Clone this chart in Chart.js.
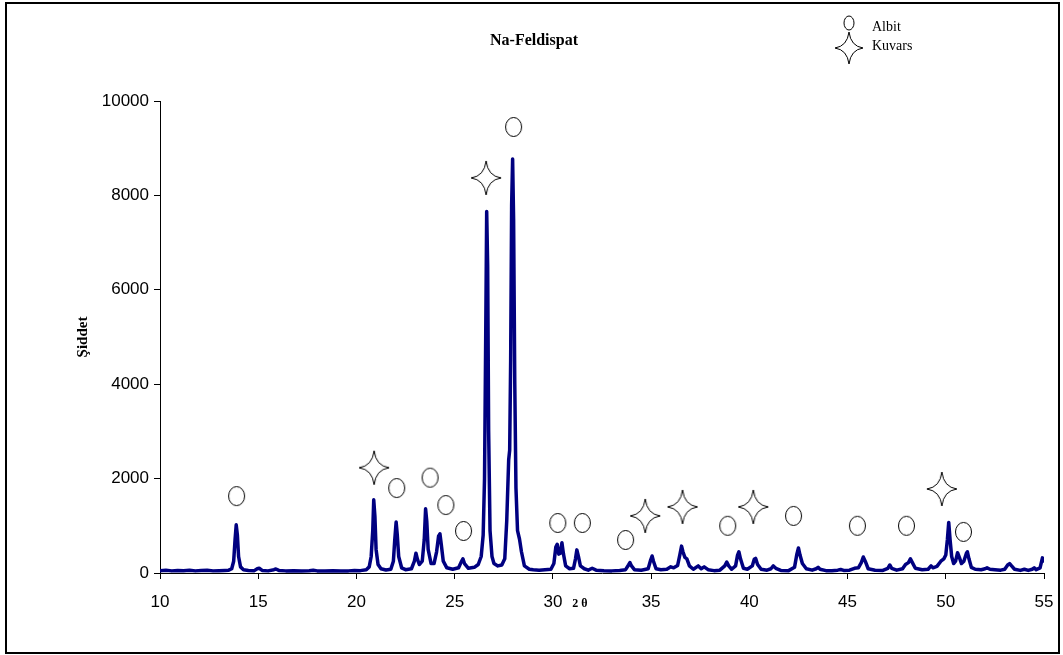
<!DOCTYPE html>
<html>
<head>
<meta charset="utf-8">
<script src="https://cdn.jsdelivr.net/npm/chart.js@4.4.1/dist/chart.umd.min.js"></script>
<style>
  html, body { margin: 0; padding: 0; background: #fff; }
  #wrap { width: 1063px; height: 655px; position: relative; }
</style>
</head>
<body>
<div id="wrap"><canvas id="xrd"></canvas></div>
<script>
// diffractogram, [2θ, intensity]
const pattern = [
  [10.0, 50], [10.3, 60], [10.6, 45], [10.9, 55], [11.2, 50], [11.5, 60], [11.8, 45], [12.1, 55],
  [12.4, 60], [12.7, 45], [13.0, 50], [13.3, 55], [13.5, 60], [13.65, 90], [13.75, 250], [13.82, 700],
  [13.88, 1020], [13.94, 800], [14.0, 350], [14.1, 130], [14.25, 70], [14.5, 55], [14.8, 50], [14.95, 90],
  [15.05, 100], [15.2, 55], [15.5, 45], [15.8, 70], [15.9, 85], [16.05, 55], [16.4, 45], [16.8, 50],
  [17.2, 40], [17.6, 50], [17.8, 60], [18.0, 45], [18.4, 45], [18.8, 50], [19.2, 40], [19.6, 45],
  [19.9, 55], [20.2, 50], [20.5, 70], [20.65, 130], [20.75, 350], [20.83, 900], [20.88, 1550], [20.94, 1200],
  [21.0, 500], [21.1, 180], [21.25, 90], [21.5, 65], [21.75, 80], [21.88, 250], [21.95, 700], [22.02, 1080],
  [22.08, 800], [22.15, 350], [22.3, 110], [22.5, 70], [22.8, 90], [22.95, 250], [23.03, 420], [23.1, 300],
  [23.2, 180], [23.35, 250], [23.45, 700], [23.52, 1360], [23.58, 1100], [23.65, 500], [23.8, 200], [23.95, 200],
  [24.08, 450], [24.18, 780], [24.25, 830], [24.32, 600], [24.42, 250], [24.6, 110], [24.9, 80], [25.2, 110],
  [25.33, 230], [25.42, 300], [25.5, 200], [25.7, 100], [26.0, 120], [26.2, 180], [26.35, 350], [26.45, 800],
  [26.52, 2000], [26.58, 5000], [26.63, 7660], [26.68, 6500], [26.73, 3000], [26.8, 900], [26.9, 350], [27.0, 200],
  [27.2, 150], [27.4, 170], [27.55, 300], [27.65, 1100], [27.75, 2400], [27.8, 2600], [27.85, 4500], [27.9, 7800],
  [27.95, 8770], [28.0, 7500], [28.06, 4000], [28.12, 1800], [28.2, 900], [28.3, 720], [28.4, 450], [28.55, 150],
  [28.8, 80], [29.0, 70], [29.3, 60], [29.6, 70], [29.9, 80], [30.05, 200], [30.15, 550], [30.22, 610],
  [30.3, 400], [30.38, 420], [30.46, 640], [30.54, 400], [30.65, 150], [30.85, 90], [31.05, 100], [31.15, 300],
  [31.22, 490], [31.3, 350], [31.4, 150], [31.6, 90], [31.8, 60], [32.0, 100], [32.2, 60], [32.6, 50],
  [33.0, 45], [33.4, 55], [33.7, 70], [33.85, 170], [33.92, 220], [34.0, 150], [34.15, 70], [34.5, 60],
  [34.85, 90], [34.98, 280], [35.05, 360], [35.12, 250], [35.25, 90], [35.5, 70], [35.8, 80], [36.0, 130],
  [36.15, 110], [36.35, 160], [36.47, 400], [36.55, 570], [36.62, 450], [36.72, 330], [36.82, 300], [36.95, 150],
  [37.15, 80], [37.4, 150], [37.55, 90], [37.7, 130], [37.9, 70], [38.2, 50], [38.5, 60], [38.75, 150],
  [38.85, 230], [38.95, 150], [39.1, 80], [39.3, 150], [39.4, 380], [39.47, 450], [39.55, 300], [39.7, 100],
  [39.9, 80], [40.15, 150], [40.25, 290], [40.32, 310], [40.42, 180], [40.6, 80], [40.9, 60], [41.1, 90],
  [41.22, 150], [41.35, 100], [41.6, 55], [42.0, 50], [42.3, 120], [42.42, 400], [42.5, 530], [42.58, 380],
  [42.7, 200], [42.9, 90], [43.2, 60], [43.4, 90], [43.5, 120], [43.6, 80], [43.9, 50], [44.2, 50],
  [44.5, 60], [44.65, 75], [44.8, 55], [45.1, 60], [45.35, 100], [45.55, 110], [45.7, 220], [45.8, 340],
  [45.9, 250], [46.05, 90], [46.4, 60], [46.8, 55], [47.05, 100], [47.15, 170], [47.25, 100], [47.5, 60],
  [47.8, 90], [47.95, 180], [48.1, 220], [48.2, 300], [48.3, 220], [48.45, 100], [48.8, 70], [49.1, 80],
  [49.25, 150], [49.35, 110], [49.55, 140], [49.75, 250], [49.9, 300], [50.0, 380], [50.08, 700], [50.15, 1070],
  [50.22, 700], [50.3, 350], [50.4, 200], [50.5, 250], [50.6, 430], [50.7, 320], [50.8, 200], [50.92, 250],
  [51.05, 420], [51.1, 450], [51.18, 300], [51.3, 120], [51.5, 80], [51.8, 70], [52.0, 90], [52.1, 110],
  [52.25, 80], [52.5, 70], [52.8, 60], [53.0, 80], [53.15, 170], [53.25, 200], [53.35, 150], [53.5, 80],
  [53.8, 55], [54.0, 80], [54.2, 55], [54.4, 80], [54.5, 110], [54.6, 70], [54.8, 110], [54.92, 320],
  [55.0, 220]
];

// phase markers placed above the peaks
const albitMarks = [
  [13.9, 1630], [22.05, 1800], [23.75, 2020], [24.55, 1440], [25.45, 890], [28.0, 9450],
  [30.25, 1060], [31.5, 1060], [33.7, 700], [38.9, 1000], [42.25, 1210], [45.5, 1000],
  [48.0, 1000], [50.9, 870]
];
const kuvarsMarks = [
  [20.9, 2230], [26.6, 8370], [34.7, 1210], [36.6, 1400], [40.2, 1400], [49.8, 1780]
];

const xTicks = [10, 15, 20, 25, 30, 35, 40, 45, 50, 55];
const yTicks = [0, 2000, 4000, 6000, 8000, 10000];

const toXY = (arr) => arr.map(([x, y]) => ({ x: x, y: y }));

function ellipsePath(ctx, cx, cy, rx, ry) {
  ctx.beginPath();
  ctx.ellipse(cx, cy, rx, ry, 0, 0, Math.PI * 2);
}

function starPath(ctx, cx, cy, w, h) {
  const hw = w / 2, hh = h / 2, k = 1.8;
  ctx.beginPath();
  ctx.moveTo(cx, cy - hh);
  ctx.quadraticCurveTo(cx + k, cy - k, cx + hw, cy);
  ctx.quadraticCurveTo(cx + k, cy + k, cx, cy + hh);
  ctx.quadraticCurveTo(cx - k, cy + k, cx - hw, cy);
  ctx.quadraticCurveTo(cx - k, cy - k, cx, cy - hh);
  ctx.closePath();
}

function makeIcon(w, h, draw) {
  const c = document.createElement("canvas");
  c.width = w;
  c.height = h;
  const ctx = c.getContext("2d");
  ctx.fillStyle = "#fff";
  ctx.strokeStyle = "#000";
  ctx.lineWidth = 1;
  draw(ctx);
  ctx.fill();
  ctx.stroke();
  return c;
}

const circleIcon = makeIcon(19, 22, (ctx) => ellipsePath(ctx, 9.5, 11, 8, 9.5));
const starIcon = makeIcon(32, 36, (ctx) => starPath(ctx, 16, 18, 30, 34));

// frame, title, legend and axis titles
const decorations = {
  id: "decorations",
  afterDraw(chart) {
    const ctx = chart.ctx;
    ctx.save();
    ctx.strokeStyle = "#000";
    ctx.lineWidth = 2;
    ctx.strokeRect(6, 3, 1053, 650);

    ctx.fillStyle = "#000";
    ctx.textBaseline = "middle";
    ctx.textAlign = "center";
    ctx.font = "bold 16px 'Liberation Serif', 'Times New Roman', serif";
    ctx.fillText("Na-Feldispat", 534, 41);

    ctx.font = "bold 12px 'Liberation Serif', 'Times New Roman', serif";
    ctx.fillText("2 θ", 580, 604);

    ctx.save();
    ctx.translate(83, 337);
    ctx.rotate(-Math.PI / 2);
    ctx.font = "bold 15px 'Liberation Serif', 'Times New Roman', serif";
    ctx.fillText("Şiddet", 0, 0);
    ctx.restore();

    // legend
    ctx.lineWidth = 1;
    ctx.fillStyle = "#fff";
    ellipsePath(ctx, 849, 23, 5, 7);
    ctx.fill();
    ctx.stroke();
    starPath(ctx, 849, 48, 28, 32);
    ctx.fill();
    ctx.stroke();

    ctx.fillStyle = "#000";
    ctx.textAlign = "left";
    ctx.font = "14px 'Liberation Serif', 'Times New Roman', serif";
    ctx.fillText("Albit", 872, 27);
    ctx.fillText("Kuvars", 872, 46);
    ctx.restore();
  },
};

const tickFont = { family: "'Liberation Sans', Arial, sans-serif", size: 17 };

new Chart(document.getElementById("xrd"), {
  type: "scatter",
  data: {
    datasets: [
      {
        label: "Albit",
        data: toXY(albitMarks),
        pointStyle: circleIcon,
        pointRadius: 10,
      },
      {
        label: "Kuvars",
        data: toXY(kuvarsMarks),
        pointStyle: starIcon,
        pointRadius: 16,
      },
      {
        label: "Na-Feldispat",
        data: toXY(pattern),
        showLine: true,
        borderColor: "#000080",
        borderWidth: 3.5,
        pointRadius: 0,
        tension: 0,
        borderJoinStyle: "round",
      },
    ],
  },
  options: {
    responsive: true,
    maintainAspectRatio: false,
    animation: false,
    layout: { padding: { left: 0, right: 19, top: 101, bottom: 0 } },
    plugins: {
      legend: { display: false },
      tooltip: { enabled: false },
    },
    scales: {
      x: {
        type: "linear",
        min: 10,
        max: 55,
        afterBuildTicks: (scale) => {
          scale.ticks = xTicks.map((v) => ({ value: v }));
        },
        afterFit: (scale) => {
          scale.height = 82;
          scale.paddingLeft = 0;
          scale.paddingRight = 0;
        },
        grid: {
          drawOnChartArea: false,
          drawTicks: true,
          tickLength: 6,
          color: "#000",
        },
        border: { color: "#000", width: 1 },
        ticks: { color: "#000", font: tickFont, padding: 13, maxRotation: 0 },
      },
      y: {
        type: "linear",
        min: 0,
        max: 10000,
        afterBuildTicks: (scale) => {
          scale.ticks = yTicks.map((v) => ({ value: v }));
        },
        afterFit: (scale) => {
          scale.width = 160;
        },
        grid: {
          drawOnChartArea: false,
          drawTicks: true,
          tickLength: 6,
          color: "#000",
        },
        border: { color: "#000", width: 1 },
        ticks: {
          color: "#000",
          font: tickFont,
          padding: 5,
          callback: (value) => String(value),
        },
      },
    },
  },
  plugins: [decorations],
});
</script>
</body>
</html>
